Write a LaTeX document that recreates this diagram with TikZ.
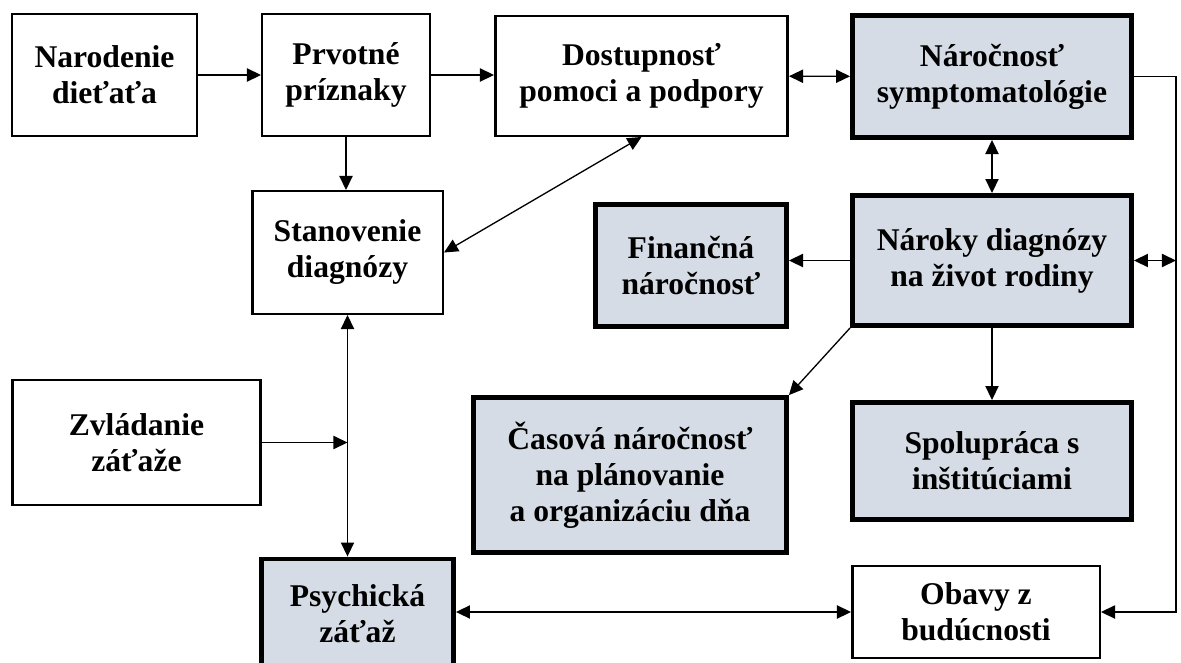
\documentclass[tikz,border=0pt]{standalone}
\usepackage{fontspec}
\setmainfont{Liberation Serif}
\usetikzlibrary{arrows.meta}
\definecolor{boxfill}{HTML}{D6DCE5}

\begin{document}
\begin{tikzpicture}[x=0.02cm, y=-0.02cm, >={Triangle[length=8pt,width=7.5pt]},
    whitebox/.style={draw, line width=1.4pt, align=center, inner sep=0pt,
      font=\fontsize{18}{20.5}\selectfont\bfseries},
    greybox/.style={whitebox, line width=2.8pt, fill=boxfill},
    link/.style={line width=0.75pt}]
  \useasboundingbox (0,0) rectangle (1181,663);
  \clip (0,0) rectangle (1181,663);

  \node[whitebox, minimum width=3.69cm, minimum height=2.43cm] (narodenie) at (104.5,75) {Narodenie\\dieťaťa};
  \node[whitebox, minimum width=3.35cm, minimum height=2.43cm] (prvotne) at (346,75) {Prvotné\\príznaky};
  \node[whitebox, minimum width=5.85cm, minimum height=2.39cm] (dostupnost) at (641.5,76) {Dostupnosť\\pomoci a podpory};
  \node[greybox, minimum width=5.58cm, minimum height=2.44cm] (narocnost) at (992,76.5) {Náročnosť\\symptomatológie};

  \node[whitebox, minimum width=3.81cm, minimum height=2.45cm] (stanovenie) at (347.5,252.5) {Stanovenie\\diagnózy};
  \node[greybox, minimum width=3.82cm, minimum height=2.44cm] (financna) at (691,265.5) {Finančná\\náročnosť};
  \node[greybox, minimum width=5.58cm, minimum height=2.6cm] (naroky) at (992,260.5) {Nároky diagnózy\\na život rodiny};

  \node[whitebox, minimum width=4.97cm, minimum height=2.49cm] (zvladanie) at (136.5,442.5) {Zvládanie\\záťaže};
  \node[greybox, minimum width=6.26cm, minimum height=3.1cm] (casova) at (630,475) {Časová náročnosť\\na plánovanie\\a organizáciu dňa};
  \node[greybox, minimum width=5.58cm, minimum height=2.34cm] (spolupraca) at (992,461) {Spolupráca s\\inštitúciami};

  \node[greybox, minimum width=3.84cm, minimum height=2.2cm] (psychicka) at (357.5,614) {Psychická\\záťaž};
  \node[whitebox, minimum width=4.95cm, minimum height=1.83cm] (obavy) at (976,612) {Obavy z\\budúcnosti};

  \coordinate (rail) at (1176,300);

  \draw[link,->] (narodenie) -- (prvotne);
  \draw[link,->] (prvotne.east) -- (prvotne.east -| dostupnost.west);
  \draw[link,<->] (dostupnost) -- (narocnost);
  \draw[link,->] (prvotne.south) -- (prvotne.south |- stanovenie.north);
  \draw[link,<->] (stanovenie.east) -- (dostupnost.south);
  \draw[link,<->] (narocnost) -- (naroky);
  \draw[link,->] (naroky.west) -- (naroky.west -| financna.east);
  \draw[link,->] (naroky.south west) -- (casova.north east);
  \draw[link,->] (naroky) -- (spolupraca);
  \draw[link,->] (narocnost.east) -- (narocnost.east -| rail) -- (rail |- obavy.east) -- (obavy.east);
  \draw[link,<->] (naroky.east) -- (naroky.east -| rail);
  \draw[link,<->] (stanovenie.south) -- (stanovenie.south |- psychicka.north);
  \draw[link,->] (zvladanie.east) -- (zvladanie.east -| stanovenie.south);
  \draw[link,<->] (psychicka.east |- obavy) -- (obavy);
\end{tikzpicture}
\end{document}
